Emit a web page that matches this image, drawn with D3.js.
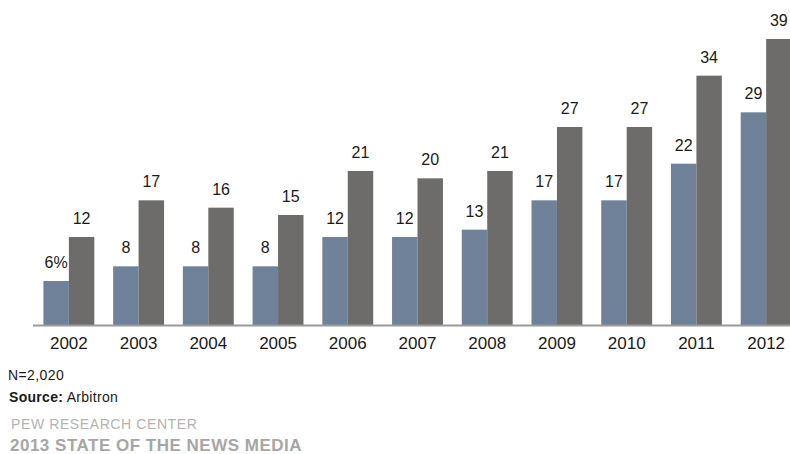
<!DOCTYPE html>
<html>
<head>
<meta charset="utf-8">
<script src="https://cdn.jsdelivr.net/npm/d3@7"></script>
<style>
  body { margin: 0; background: #fff; }
  svg { display: block; font-family: "Liberation Sans", Arial, sans-serif; }
</style>
</head>
<body>
<svg id="chart" width="790" height="454"></svg>
<script>
// chart data
const years = ['2002', '2003', '2004', '2005', '2006', '2007', '2008', '2009', '2010', '2011', '2012'];
const seriesA = [6, 8, 8, 8, 12, 12, 13, 17, 17, 22, 29];
const seriesB = [12, 17, 16, 15, 21, 20, 21, 27, 27, 34, 39];
const seriesColors = ['#6f8299', '#6e6b6b'];

const svg = d3.select('#chart');
const baseY = 325;

const x = d3.scaleBand()
  .domain(years)
  .range([34, 801])
  .paddingInner(0.27)
  .paddingOuter(0.135);

const sub = d3.scaleBand()
  .domain([0, 1])
  .range([0, x.bandwidth()]);

const y = d3.scaleLinear()
  .domain([0, 39])
  .range([baseY, 39]);

const rows = years.map((yr, i) => ({ yr, vals: [seriesA[i], seriesB[i]] }));

const groups = svg.selectAll('g.year')
  .data(rows)
  .join('g')
  .attr('class', 'year')
  .attr('transform', d => `translate(${x(d.yr)},0)`);

groups.selectAll('rect')
  .data(d => d.vals.map((v, k) => ({ v, k })))
  .join('rect')
  .attr('x', d => sub(d.k))
  .attr('y', d => y(d.v))
  .attr('width', sub.bandwidth())
  .attr('height', d => baseY - y(d.v))
  .attr('fill', d => seriesColors[d.k]);

// value labels above each bar, first one gets a % sign
groups.selectAll('text.val')
  .data((d, i) => d.vals.map((v, k) => ({ v, k, first: i === 0 && k === 0 })))
  .join('text')
  .attr('class', 'val')
  .attr('x', d => sub(d.k) + sub.bandwidth() / 2)
  .attr('y', d => y(d.v) - 13)
  .attr('text-anchor', 'middle')
  .attr('font-size', '16px')
  .attr('fill', '#1a1a1a')
  .text(d => d.first ? d.v + '%' : d.v);

// baseline axis
const axis = svg.append('g')
  .attr('transform', `translate(0,${baseY})`)
  .call(d3.axisBottom(x).tickSize(0).tickPadding(12));
axis.select('.domain')
  .attr('d', `M33,0.5H790`)
  .attr('stroke', '#9a9a9a')
  .attr('stroke-width', 2);
axis.selectAll('.tick text')
  .attr('font-size', '17px')
  .attr('font-family', '"Liberation Sans", Arial, sans-serif')
  .attr('fill', '#1a1a1a');

// footer notes
svg.append('text')
  .attr('x', 8).attr('y', 380)
  .attr('font-size', '14px')
  .attr('letter-spacing', '0.4px')
  .attr('fill', '#1a1a1a')
  .text('N=2,020');

const src = svg.append('text')
  .attr('x', 9).attr('y', 402)
  .attr('font-size', '14px')
  .attr('letter-spacing', '0.3px')
  .attr('fill', '#1a1a1a');
src.append('tspan').attr('font-weight', 'bold').text('Source:');
src.append('tspan').text(' Arbitron');

svg.append('text')
  .attr('x', 11).attr('y', 429)
  .attr('font-size', '14px')
  .attr('letter-spacing', '0.6px')
  .attr('fill', '#b3b3b3')
  .text('PEW RESEARCH CENTER');

svg.append('text')
  .attr('x', 10).attr('y', 451)
  .attr('font-size', '17px')
  .attr('font-weight', 'bold')
  .attr('letter-spacing', '0.5px')
  .attr('fill', '#a6a6a6')
  .text('2013 STATE OF THE NEWS MEDIA');
</script>
</body>
</html>
